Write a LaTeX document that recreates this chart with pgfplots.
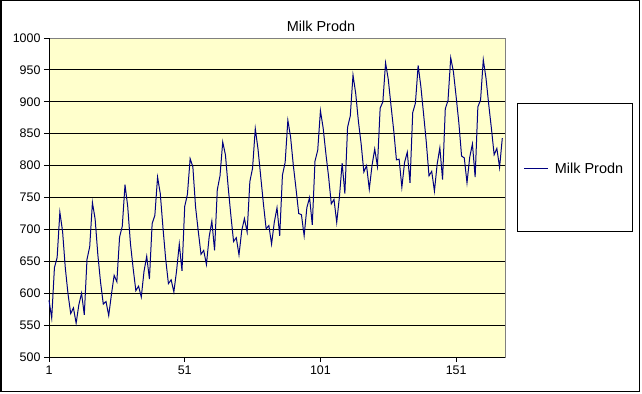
\documentclass[border=0pt]{standalone}
\usepackage{fontspec}
\setmainfont{Liberation Sans}
\usepackage{pgfplots}
\pgfplotsset{compat=1.18}
\definecolor{plotbg}{RGB}{255,255,204}
\definecolor{navyline}{RGB}{0,0,128}
\begin{document}
\begin{tikzpicture}[x=1bp,y=1bp]
\useasboundingbox (0bp,0bp) rectangle (642bp,394bp);
\fill[white] (0bp,0bp) rectangle (642bp,394bp);
\draw[line width=1.5bp] (0.75bp,2.5bp) rectangle (639.5bp,393.25bp);
\node[font=\fontsize{14.5}{16}\selectfont] at (321bp,368bp) {Milk Prodn};
\begin{axis}[at={(49bp,37bp)}, anchor=south west, scale only axis,
  width=456bp, height=319bp,
  xmin=1, xmax=169, ymin=500, ymax=1000,
  xtick={1,51,101,151}, ytick={500,550,...,950},
  extra y ticks={1000}, extra y tick style={grid=none},
  axis x line*=bottom, axis y line*=left,
  axis line style={-, black, line width=1bp},
  xtick pos=left, ytick pos=left,
  axis background/.style={fill=plotbg, draw=gray, line width=1bp},
  ymajorgrids, grid style={black, line width=1bp},
  tick align=outside, major tick length=5bp,
  tick style={black, line width=1bp},
  ticklabel style={font=\fontsize{12.5}{14}\selectfont},
  /pgf/number format/assume math mode=true,
  /pgf/number format/set thousands separator={},
  legend style={at={(1.0345,0.59)}, anchor=west, draw=none, fill=none,
    font=\fontsize{14.5}{16}\selectfont},
  legend image code/.code={\draw[#1] (0bp,0bp) -- (24bp,0bp);},
  clip=false,
]
\addplot[navyline, line width=1bp, mark=none] coordinates {
(1,589)(2,561)(3,640)(4,656)(5,727)(6,697)(7,640)(8,599)(9,568)(10,577)(11,553)(12,582)
(13,600)(14,566)(15,653)(16,673)(17,742)(18,716)(19,660)(20,617)(21,583)(22,587)(23,565)(24,598)
(25,628)(26,618)(27,688)(28,705)(29,770)(30,736)(31,678)(32,639)(33,604)(34,611)(35,594)(36,634)
(37,658)(38,622)(39,709)(40,722)(41,782)(42,756)(43,702)(44,653)(45,615)(46,621)(47,602)(48,635)
(49,677)(50,635)(51,736)(52,755)(53,811)(54,798)(55,735)(56,697)(57,661)(58,667)(59,645)(60,688)
(61,713)(62,667)(63,762)(64,784)(65,837)(66,817)(67,767)(68,722)(69,681)(70,687)(71,660)(72,698)
(73,717)(74,696)(75,775)(76,796)(77,858)(78,826)(79,783)(80,740)(81,701)(82,706)(83,677)(84,711)
(85,734)(86,690)(87,785)(88,805)(89,871)(90,845)(91,801)(92,764)(93,725)(94,723)(95,690)(96,734)
(97,750)(98,707)(99,807)(100,824)(101,886)(102,859)(103,819)(104,783)(105,740)(106,747)(107,711)(108,751)
(109,804)(110,756)(111,860)(112,878)(113,942)(114,913)(115,869)(116,834)(117,790)(118,800)(119,763)(120,800)
(121,826)(122,799)(123,890)(124,900)(125,961)(126,935)(127,894)(128,855)(129,809)(130,810)(131,766)(132,805)
(133,821)(134,773)(135,883)(136,898)(137,957)(138,924)(139,881)(140,837)(141,784)(142,791)(143,760)(144,802)
(145,828)(146,778)(147,889)(148,902)(149,969)(150,947)(151,908)(152,867)(153,815)(154,812)(155,773)(156,813)
(157,834)(158,782)(159,892)(160,903)(161,966)(162,937)(163,896)(164,858)(165,817)(166,827)(167,797)(168,843)
};
\addlegendentry{\hspace{4bp}Milk Prodn}
\end{axis}
\draw[line width=1bp] (517.5bp,162.5bp) rectangle (632bp,290.5bp);
\end{tikzpicture}
\end{document}
